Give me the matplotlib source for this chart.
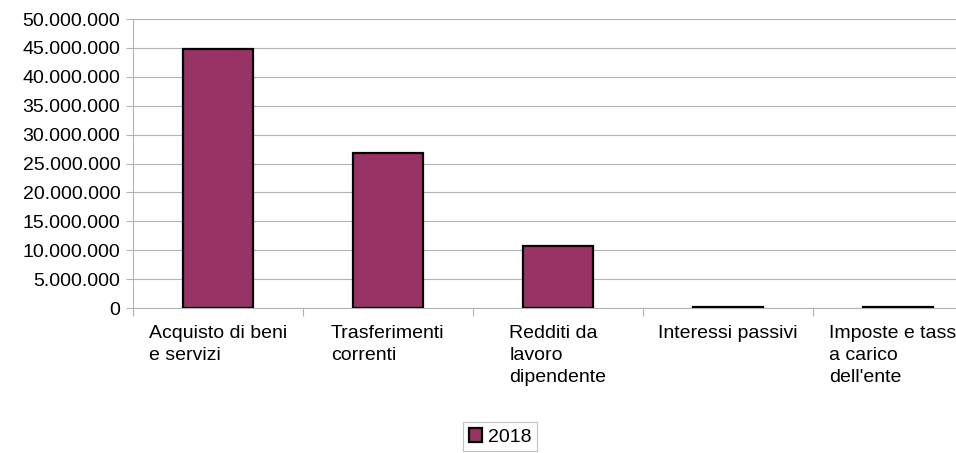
import matplotlib.pyplot as plt
from matplotlib.ticker import FuncFormatter, MultipleLocator
from matplotlib.patches import Patch

plt.rcParams["font.family"] = ["Liberation Sans", "DejaVu Sans"]

categories = [
    "Acquisto di beni\ne servizi",
    "Trasferimenti\ncorrenti",
    "Redditi da\nlavoro\ndipendente",
    "Interessi passivi",
    "Imposte e tasse\na carico\ndell'ente",
]
values_2018 = [44800000, 26900000, 10700000, 120000, 100000]
series_name = "2018"

bar_color = "#993366"
grid_color = "#b3b3b3"

fig = plt.figure(figsize=(9.56, 4.53), dpi=100)
# plot area runs past the right edge, as in the cropped original
ax = fig.add_axes([0.139, 0.320, 0.889, 0.638])

x = list(range(len(categories)))
ax.bar(x, values_2018, width=0.41, color=bar_color, edgecolor="black",
       linewidth=1.6, zorder=3)

ax.set_xlim(-0.5, len(categories) - 0.5)
ax.set_ylim(0, 50000000)
ax.yaxis.set_major_locator(MultipleLocator(5000000))
ax.yaxis.set_major_formatter(
    FuncFormatter(lambda v, p: f"{int(v):,}".replace(",", ".")))
ax.grid(axis="y", color=grid_color, linewidth=0.8, zorder=0)

# ticks on category boundaries, labels at centres
ax.set_xticks([i - 0.5 for i in range(len(categories) + 1)])
ax.set_xticklabels([])
ax.set_xticks(x, minor=True)
ax.set_xticklabels(categories, minor=True, multialignment="left",
                   fontsize=14, va="top", linespacing=1.38)
ax.tick_params(axis="x", which="minor", length=0, pad=12)
ax.tick_params(axis="x", which="major", length=6, color=grid_color)
ax.tick_params(axis="y", length=5, color=grid_color, labelsize=14, pad=4)

for s in ["top", "right"]:
    ax.spines[s].set_visible(False)
for s in ["left", "bottom"]:
    ax.spines[s].set_color(grid_color)
    ax.spines[s].set_linewidth(0.8)

handle = Patch(facecolor=bar_color, edgecolor="black", linewidth=1.6)
leg = fig.legend([handle], [series_name], loc="upper center",
                 bbox_to_anchor=(0.523, 0.068), frameon=True, fontsize=14,
                 fancybox=False, handlelength=0.7, handleheight=0.7,
                 handletextpad=0.3, borderpad=0.3, borderaxespad=0)
leg.get_frame().set_edgecolor(grid_color)
leg.get_frame().set_linewidth(0.8)

fig.savefig("out.png", dpi=100)
